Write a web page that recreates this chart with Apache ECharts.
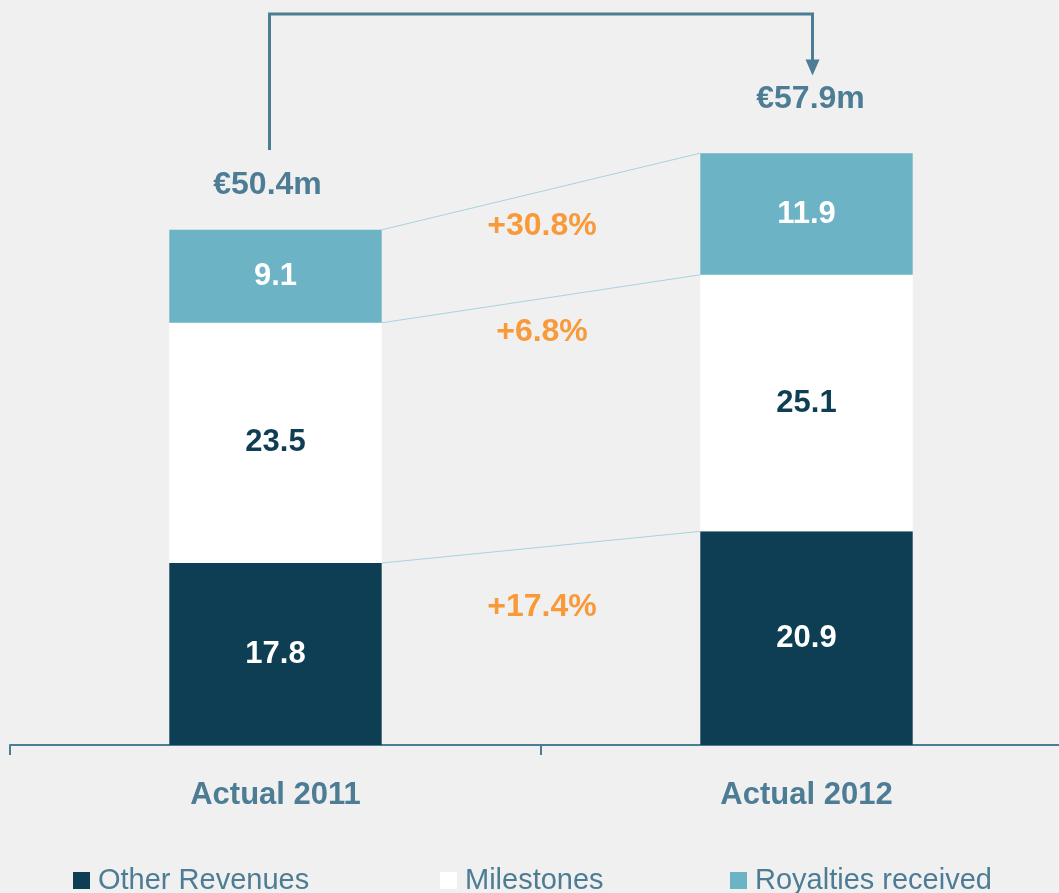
<!DOCTYPE html>
<html>
<head>
<meta charset="utf-8">
<script src="https://cdn.jsdelivr.net/npm/echarts@6/dist/echarts.min.js"></script>
<style>
  html, body { margin: 0; padding: 0; background: #f0f0f0; }
  #main { width: 1059px; height: 893px; }
</style>
</head>
<body>
<div id="main"></div>
<script>
var categories = ['Actual 2011', 'Actual 2012'];
var otherRevenues = [17.8, 20.9];
var milestones = [23.5, 25.1];
var royalties = [9.1, 11.9];
var growthLabels = ['+17.4%', '+6.8%', '+30.8%'];
// value level where each growth label sits (between the two bars)
var growthLevels = [13.5, 40.4, 50.8];

var totals = categories.map(function (c, i) {
  return +(otherRevenues[i] + milestones[i] + royalties[i]).toFixed(1);
});

var chartDom = document.getElementById('main');
var myChart = echarts.init(chartDom);
var option;

var axisBlue = '#4d7c95';
var navy = '#0d3e53';
var teal = '#6db3c6';
var orange = '#f89a3a';
var font = 'Liberation Sans, Arial, sans-serif';

function barLabel(color) {
  return {
    show: true,
    position: 'inside',
    color: color,
    fontSize: 31,
    fontWeight: 'bold',
    fontFamily: font
  };
}

option = {
  backgroundColor: '#f0f0f0',
  animation: false,
  grid: { left: 10, right: -13, top: 9, bottom: 148, containLabel: false, outerBoundsMode: 'none' },
  legend: [
    { data: ['Other Revenues'], left: 73 },
    { data: ['Milestones'], left: 440 },
    { data: ['Royalties received'], left: 730 }
  ].map(function (l) {
    l.top = 866;
    l.icon = 'rect';
    l.itemWidth = 17;
    l.itemHeight = 17;
    l.itemGap = 0;
    l.padding = 0;
    l.textStyle = { color: axisBlue, fontSize: 29, fontFamily: font, padding: [0, 0, 0, 3] };
    return l;
  }),
  xAxis: {
    type: 'category',
    data: categories,
    axisLine: { lineStyle: { color: axisBlue, width: 2 } },
    axisTick: { show: true, length: 10, lineStyle: { color: axisBlue, width: 2 } },
    axisLabel: {
      margin: 35,
      color: axisBlue,
      fontSize: 31,
      fontWeight: 'bold',
      fontFamily: font
    }
  },
  yAxis: {
    type: 'value',
    min: 0,
    max: 72,
    show: false,
    splitLine: { show: false }
  },
  series: [
    {
      name: 'Other Revenues',
      type: 'bar',
      stack: 'rev',
      barWidth: '40%',
      data: otherRevenues,
      itemStyle: { color: navy },
      label: barLabel('#ffffff')
    },
    {
      name: 'Milestones',
      type: 'bar',
      stack: 'rev',
      data: milestones,
      itemStyle: { color: '#ffffff' },
      label: barLabel(navy)
    },
    {
      name: 'Royalties received',
      type: 'bar',
      stack: 'rev',
      data: royalties,
      itemStyle: { color: teal },
      label: barLabel('#ffffff')
    },
    {
      type: 'custom',
      silent: true,
      data: [[0, 0]],
      renderItem: function (params, api) {
        var band = api.size([1, 0])[0];
        var half = band * 0.4 / 2;
        var x0 = api.coord([0, 0])[0];
        var x1 = api.coord([1, 0])[0];
        var levels0 = [otherRevenues[0], otherRevenues[0] + milestones[0], totals[0]];
        var levels1 = [otherRevenues[1], otherRevenues[1] + milestones[1], totals[1]];
        var children = [];
        // connector lines between the bars
        levels0.forEach(function (v, k) {
          var a = api.coord([0, v]);
          var b = api.coord([1, levels1[k]]);
          children.push({
            type: 'line',
            shape: { x1: x0 + half, y1: a[1], x2: x1 - half, y2: b[1] },
            style: { stroke: '#a9d3de', lineWidth: 1 }
          });
        });
        // growth labels
        growthLabels.forEach(function (t, k) {
          var y = api.coord([0, growthLevels[k]])[1];
          children.push({
            type: 'text',
            style: {
              text: t, x: (x0 + x1) / 2 + 1, y: y,
              align: 'center', verticalAlign: 'middle',
              fill: orange, fontSize: 32, fontWeight: 'bold', fontFamily: font
            }
          });
        });
        // totals above bars
        var totOffsets = [[-8, 45], [4, 54]];
        totals.forEach(function (t, i) {
          var p = api.coord([i, t]);
          children.push({
            type: 'text',
            style: {
              text: '€' + t.toFixed(1) + 'm',
              x: p[0] + totOffsets[i][0], y: p[1] - totOffsets[i][1],
              align: 'center', verticalAlign: 'middle',
              fill: axisBlue, fontSize: 32, fontWeight: 'bold', fontFamily: font
            }
          });
        });
        // bracket arrow from 2011 to 2012
        var lx = x0 - 6, rx = x1 + 6;
        var yStart = api.coord([0, 58.2])[1];
        var yTop = api.coord([0, 71.5])[1];
        var yTip = api.coord([0, 65.5])[1];
        children.push({
          type: 'polyline',
          shape: { points: [[lx, yStart], [lx, yTop], [rx, yTop], [rx, yTip - 14]] },
          style: { stroke: axisBlue, lineWidth: 3, fill: null }
        });
        children.push({
          type: 'polygon',
          shape: { points: [[rx - 7, yTip - 16], [rx + 7, yTip - 16], [rx, yTip]] },
          style: { fill: axisBlue }
        });
        return { type: 'group', children: children };
      }
    }
  ]
};

option && myChart.setOption(option);
</script>
</body>
</html>
